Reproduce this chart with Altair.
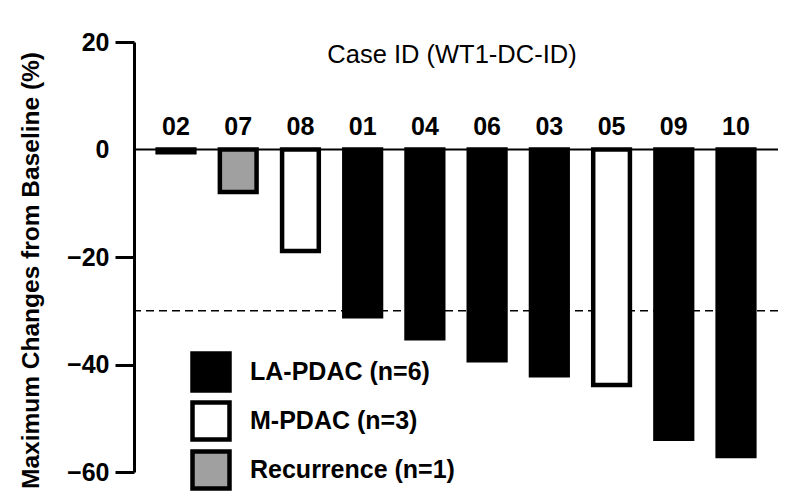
import altair as alt
import pandas as pd

# ---- data ----
cases = ["02", "07", "08", "01", "04", "06", "03", "05", "09", "10"]
values = [-0.5, -7.9, -18.9, -31.0, -35.1, -39.2, -42.0, -43.8, -53.8, -57.0]
groups = ["M-PDAC (n=3)", "Recurrence (n=1)", "M-PDAC (n=3)", "LA-PDAC (n=6)",
          "LA-PDAC (n=6)", "LA-PDAC (n=6)", "LA-PDAC (n=6)", "M-PDAC (n=3)",
          "LA-PDAC (n=6)", "LA-PDAC (n=6)"]
legend_order = ["LA-PDAC (n=6)", "M-PDAC (n=3)", "Recurrence (n=1)"]
legend_colors = ["#000000", "#ffffff", "#a0a0a0"]
y_ticks = [20, 0, -20, -40, -60]
threshold = [-30]
baseline = [0]

FONT = "Liberation Sans"

df = pd.DataFrame({"case": cases, "value": values, "group": groups})

x_enc = alt.X("case:N", sort=cases,
              scale=alt.Scale(paddingInner=0.41, paddingOuter=0.38),
              axis=None)

y_scale = alt.Scale(domain=[-60, 20], nice=False)

y_axis = alt.Axis(
    values=y_ticks,
    title="Maximum Changes from Baseline (%)",
    grid=False,
    domainColor="black", domainWidth=3,
    tickColor={"condition": {"test": "datum.value === 0", "value": "transparent"},
               "value": "black"},
    tickWidth=3, tickSize=19,
    labelFont=FONT, labelFontSize=25, labelFontWeight="bold",
    labelColor="black", labelPadding=6,
    titleFont=FONT, titleFontSize=24.5, titleFontWeight="bold",
    titleColor="black", titleAngle=-90, titleAlign="center",
    titleBaseline="alphabetic", titleX=-96, titleY=228,
)

dashed = alt.Chart(pd.DataFrame({"y": threshold})).mark_rule(
    color="black", strokeWidth=1.5, strokeDash=[8, 5]
).encode(y=alt.Y("y:Q", scale=y_scale, axis=y_axis))

bars = alt.Chart(df).mark_bar(stroke="black", strokeWidth=4.5).encode(
    x=x_enc,
    y=alt.Y("value:Q", scale=y_scale, axis=y_axis),
    y2=alt.datum(0),
    fill=alt.Fill(
        "group:N",
        scale=alt.Scale(domain=legend_order, range=legend_colors),
        legend=alt.Legend(
            orient="none", legendX=56, legendY=309, title=None,
            symbolType="square", symbolSize=1369,
            symbolStrokeColor="black", symbolStrokeWidth=4.5,
            symbolOffset=0, padding=0, rowPadding=-8,
            labelFont=FONT, labelFontSize=25, labelFontWeight="bold",
            labelColor="black", labelOffset=18, labelLimit=0,
        ),
    ),
)

zero = alt.Chart(pd.DataFrame({"y": baseline})).mark_rule(
    color="black", strokeWidth=2
).encode(y=alt.Y("y:Q", scale=y_scale))

case_labels = alt.Chart(df).mark_text(
    font=FONT, fontSize=25, fontWeight="bold", color="black",
    baseline="alphabetic", align="center"
).encode(x=x_enc, y=alt.value(93), text="case:N")

case_title = alt.Chart(pd.DataFrame({"t": ["Case ID (WT1-DC-ID)"]})).mark_text(
    font=FONT, fontSize=25.5, fontWeight="normal", color="black",
    baseline="alphabetic", align="center"
).encode(x=alt.value(318), y=alt.value(21), text="t:N")

chart = alt.layer(dashed, bars, zero, case_labels, case_title).properties(
    width=644, height=430,
    autosize=alt.AutoSizeParams(type="none"),
    padding={"left": 126, "top": 34, "right": 14, "bottom": 25},
    background="white",
).configure_view(stroke=None)

chart.save("out.html", embed_options={"renderer": "svg", "actions": False})
